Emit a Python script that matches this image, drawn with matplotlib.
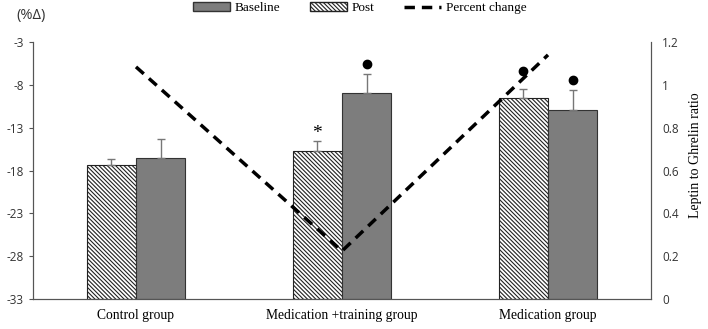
import matplotlib.pyplot as plt
import matplotlib as mpl
import numpy as np

groups = ['Control group', 'Medication +training group', 'Medication group']
post = [0.626, 0.69, 0.939]
post_err = [0.03, 0.05, 0.04]
baseline = [0.659, 0.963, 0.883]
baseline_err = [0.09, 0.09, 0.094]
pct_change = [-5.9, -27.4, -4.5]

mpl.rcParams['hatch.linewidth'] = 0.8
mpl.rcParams['axes.unicode_minus'] = False
serif = 'Liberation Serif'
sans = 'Open Sans'
hatch = '\\' * 8

fig = plt.figure(figsize=(7.08, 3.29), dpi=100)
ax = fig.add_axes([0.0466, 0.0912, 0.8729, 0.781])
ax2 = ax.twinx()

x = np.arange(len(groups))
w = 0.24

# bars on the right axis
ax2.bar(x - w / 2, post, w, color='white', edgecolor='#222222', hatch=hatch,
        linewidth=0.8, label='Post')
ax2.bar(x + w / 2, baseline, w, color='#7d7d7d', edgecolor='#333333', linewidth=0.8,
        label='Baseline')
ax2.errorbar(x - w / 2, post, yerr=[np.zeros(3), post_err], fmt='none',
             ecolor='#777777', elinewidth=1, capsize=3, capthick=1)
ax2.errorbar(x + w / 2, baseline, yerr=[np.zeros(3), baseline_err], fmt='none',
             ecolor='#777777', elinewidth=1, capsize=3, capthick=1)

# significance marks
ax2.text(1 - w / 2, 0.775, '*', ha='center', va='center', fontsize=14, family=serif)
ax2.plot([1 + w / 2, 2 - w / 2, 2 + w / 2], [1.098, 1.065, 1.023], 'o',
         color='black', markersize=6, linestyle='none')

ax2.set_ylim(0, 1.2)
ax2.set_yticks(np.arange(0, 1.21, 0.2))
ax2.set_yticklabels(['0', '0.2', '0.4', '0.6', '0.8', '1', '1.2'])
ax2.set_ylabel('Leptin to Ghrelin ratio', family=serif, fontsize=10)
ax2.yaxis.set_label_coords(1.062, 0.56)

# percent change line on the left axis, drawn on top
ax.set_zorder(ax2.get_zorder() + 1)
ax.patch.set_visible(False)
ax.plot(x, pct_change, linestyle=(0, (3, 2)), color='black', linewidth=2.5,
        label='Percent change')
ax.set_ylim(-33, -3)
ax.set_yticks(np.arange(-33, -2, 5))
ax.set_xlim(-0.5, 2.5)
ax.set_xticks(x)
ax.set_xticklabels(groups, family=serif, fontsize=9.8)
ax.tick_params(axis='x', length=0, pad=7)
fig.text(31 / 708, 1 - 15 / 329, '(%Δ)', ha='center', va='center',
         fontsize=10.5, family=sans, color='#333333')

for a in (ax, ax2):
    a.spines['top'].set_visible(False)
    for s in ('left', 'right', 'bottom'):
        a.spines[s].set_color('#555555')
    a.tick_params(axis='y', labelsize=8.5, labelcolor='#333333', color='#555555', length=3)
    for lab in a.get_yticklabels():
        lab.set_family(sans)
ax2.tick_params(axis='y', length=0, pad=8)

handles = [
    mpl.patches.Patch(facecolor='#7d7d7d', edgecolor='#333333', label='Baseline'),
    mpl.patches.Patch(facecolor='white', edgecolor='#222222', hatch=hatch, label='Post'),
    mpl.lines.Line2D([], [], linestyle=(0, (3, 2)), color='black', linewidth=2.5,
                     label='Percent change'),
]
fig.legend(handles=handles, loc='upper center', bbox_to_anchor=(0.508, 1.03), ncol=3,
           frameon=False, prop={'family': serif, 'size': 9.5}, handlelength=2.8,
           handleheight=0.6, columnspacing=2.2, handletextpad=0.4)

fig.savefig('out.png', dpi=100)
